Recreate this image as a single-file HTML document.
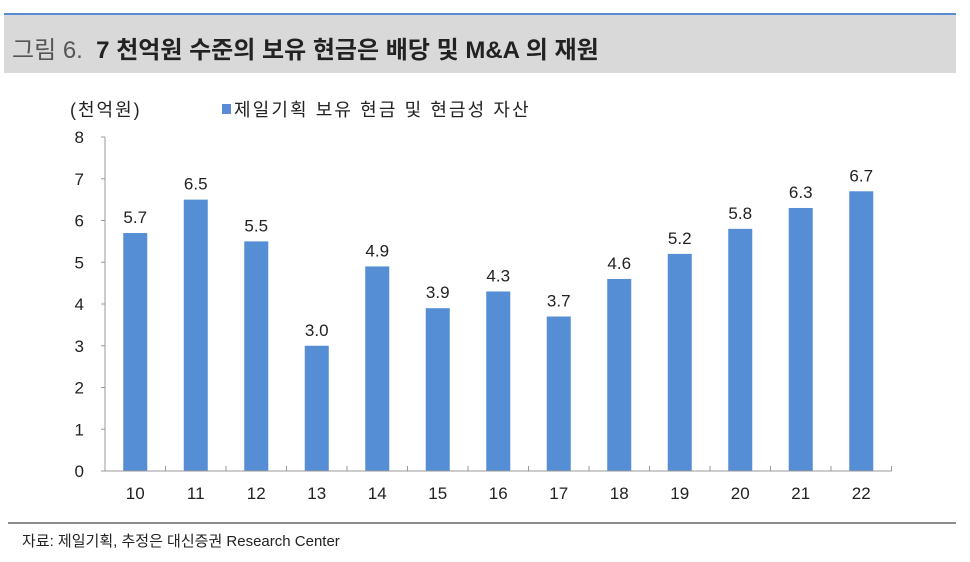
<!DOCTYPE html>
<html><head><meta charset="utf-8"><style>
body{margin:0;width:970px;height:562px;background:#fff;font-family:"Liberation Sans","Noto Sans CJK KR",sans-serif;position:relative;overflow:hidden}
.abs{position:absolute}
</style></head><body>
<div class="abs" style="left:4px;top:13px;width:952px;height:2px;background:#5b8bd0"></div>
<div class="abs" style="left:4px;top:15px;width:952px;height:58px;background:#d9d9d9"></div>
<div class="abs" style="left:12px;top:30px;font-size:24px;font-weight:bold;color:#222;letter-spacing:0px;font-family:'Liberation Sans','Noto Sans CJK KR',sans-serif"><span style="color:#555;font-weight:normal">그림 6.</span>&nbsp; 7 천억원 수준의 보유 현금은 배당 및 M&amp;A 의 재원</div>
<svg class="abs" style="left:0;top:0" width="970" height="562">
<g id="g"></g>
</svg>
<div class="abs" style="left:8px;top:522px;width:948px;height:2px;background:#8c8c8c"></div>
<div class="abs" style="left:22px;top:530px;font-size:15px;color:#222;letter-spacing:0px">자료: 제일기획, 추정은 대신증권 Research Center</div>
<script>
const categories=["10","11","12","13","14","15","16","17","18","19","20","21","22"];
const values=[5.7,6.5,5.5,3.0,4.9,3.9,4.3,3.7,4.6,5.2,5.8,6.3,6.7];
const yTicks=[0,1,2,3,4,5,6,7,8];
const x0=105,cw=60.5,y0=471,yTop=137,yMax=8;
const ys=v=>y0-(v/yMax)*(y0-yTop);
const xs=i=>x0+cw*(i+0.5);
const g=document.getElementById('g');const NS="http://www.w3.org/2000/svg";
function mk(t,a,txt){const e=document.createElementNS(NS,t);for(const k in a)e.setAttribute(k,a[k]);if(txt!=null)e.textContent=txt;g.appendChild(e);return e;}
let e;
e=mk('text',{x:70,y:116,'font-size':18,'letter-spacing':2,fill:'#222','font-family':'Liberation Sans,Noto Sans CJK KR,sans-serif'},'(천억원)');


e=mk('rect',{x:222,y:104,width:9,height:10,fill:'#5b8bd6'});


e=mk('text',{x:234,y:116,'font-size':18,'letter-spacing':2.1,fill:'#222','font-family':'Liberation Sans,Noto Sans CJK KR,sans-serif'},'제일기획 보유 현금 및 현금성 자산');


yTicks.forEach(t=>{e=mk('text',{x:84,y:ys(t)+6,'font-size':17,fill:'#222','text-anchor':'end'},String(t));


e=mk('line',{x1:x0-4,x2:x0,y1:ys(t),y2:ys(t),stroke:'#999'});

});
values.forEach((v,i)=>{const bw=24;
e=mk('rect',{x:xs(i)-bw/2,y:ys(v),width:bw,height:y0-ys(v),fill:'#558ed5'});


e=mk('text',{x:xs(i),y:ys(v)-10,'font-size':17,fill:'#222','text-anchor':'middle'},v.toFixed(1));


e=mk('text',{x:xs(i),y:y0+28,'font-size':17,fill:'#222','text-anchor':'middle'},categories[i]);


e=mk('line',{x1:x0+cw*(i+1),x2:x0+cw*(i+1),y1:y0,y2:y0-5,stroke:'#999'});

});
e=mk('line',{x1:x0,x2:x0,y1:yTop,y2:y0,stroke:'#999'});


e=mk('line',{x1:x0,x2:x0+cw*13,y1:y0,y2:y0,stroke:'#999'});


</script>
</body></html>
